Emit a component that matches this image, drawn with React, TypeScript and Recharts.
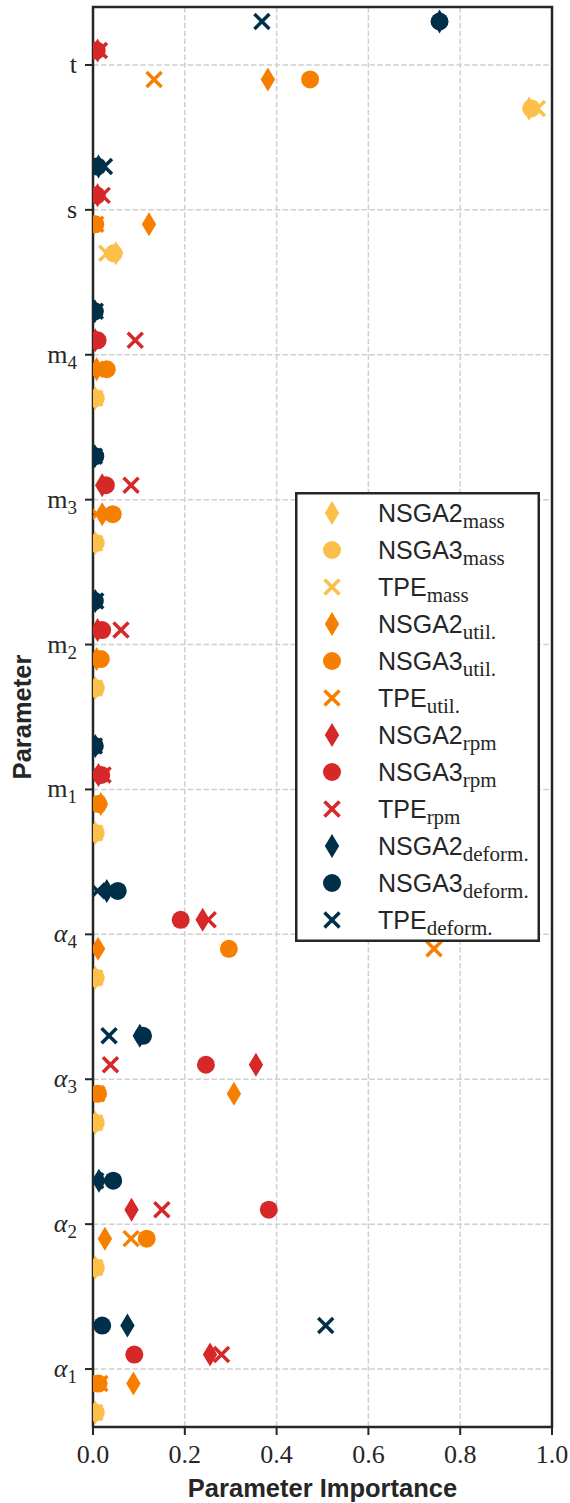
import React from 'react';
import { ScatterChart, Scatter, XAxis, YAxis, CartesianGrid, ReferenceArea, Legend, Label } from 'recharts';

// Parameters, bottom (index 0) to top (index 9)
const paramBase = ['α', 'α', 'α', 'α', 'm', 'm', 'm', 'm', 's', 't'];
const paramSub = ['1', '2', '3', '4', '1', '2', '3', '4', '', ''];
const paramItalic = [true, true, true, true, false, false, false, false, false, false];

const xTicks = [0, 0.2, 0.4, 0.6, 0.8, 1.0];
const yTicks = [0, 1, 2, 3, 4, 5, 6, 7, 8, 9];

const objectives = ['mass', 'util.', 'rpm', 'deform.'];
const objectiveColors = ['#fcbf49', '#f77f00', '#d62828', '#003049'];
const objectiveOffsets = [-0.3, -0.1, 0.1, 0.3];
const methods = ['NSGA2', 'NSGA3', 'TPE'];

// Importance values, order: α1 α2 α3 α4 m1 m2 m3 m4 s t
const nsga2Mass = [0.005, 0.005, 0.005, 0.005, 0.005, 0.005, 0.005, 0.005, 0.05, 0.95];
const nsga3Mass = [0.006, 0.006, 0.006, 0.006, 0.006, 0.006, 0.006, 0.006, 0.045, 0.955];
const tpeMass = [0.004, 0.004, 0.004, 0.004, 0.004, 0.004, 0.004, 0.004, 0.03, 0.968];

const nsga2Util = [0.088, 0.026, 0.307, 0.011, 0.017, 0.008, 0.02, 0.008, 0.122, 0.381];
const nsga3Util = [0.012, 0.117, 0.011, 0.296, 0.012, 0.017, 0.043, 0.03, 0.005, 0.473];
const tpeUtil = [0.015, 0.083, 0.008, 0.743, 0.008, 0.006, 0.008, 0.006, 0.006, 0.133];

const nsga2Rpm = [0.255, 0.084, 0.355, 0.239, 0.012, 0.01, 0.02, 0.005, 0.01, 0.01];
const nsga3Rpm = [0.09, 0.383, 0.246, 0.191, 0.018, 0.02, 0.028, 0.01, 0.008, 0.008];
const tpeRpm = [0.28, 0.15, 0.038, 0.251, 0.022, 0.061, 0.083, 0.092, 0.02, 0.014];

const nsga2Deform = [0.075, 0.013, 0.102, 0.03, 0.005, 0.005, 0.004, 0.004, 0.012, 0.755];
const nsga3Deform = [0.02, 0.044, 0.109, 0.054, 0.004, 0.004, 0.005, 0.004, 0.01, 0.755];
const tpeDeform = [0.507, 0.006, 0.035, 0.01, 0.003, 0.006, 0.003, 0.005, 0.025, 0.368];

const seriesValues = [
  [nsga2Mass, nsga3Mass, tpeMass],
  [nsga2Util, nsga3Util, tpeUtil],
  [nsga2Rpm, nsga3Rpm, tpeRpm],
  [nsga2Deform, nsga3Deform, tpeDeform],
];

const INK = '#262626';
const SERIF = '"Liberation Serif", "DejaVu Serif", serif';
const SANS = '"Liberation Sans", Arial, sans-serif';

const drawMarker = (method: number, cx: number, cy: number, color: string) => {
  if (method === 0) {
    const h = 12, w = 7.2;
    return <path d={`M${cx},${cy - h}L${cx + w},${cy}L${cx},${cy + h}L${cx - w},${cy}Z`} fill={color} />;
  }
  if (method === 1) {
    return <circle cx={cx} cy={cy} r={9} fill={color} />;
  }
  const s = 7.5;
  return (
    <g stroke={color} strokeWidth={3.5} strokeLinecap="butt">
      <line x1={cx - s} y1={cy - s} x2={cx + s} y2={cy + s} />
      <line x1={cx - s} y1={cy + s} x2={cx + s} y2={cy - s} />
    </g>
  );
};

const series = objectives.flatMap((obj, o) =>
  methods.map((m, k) => ({
    name: `${m}_${obj}`,
    method: k,
    objective: o,
    color: objectiveColors[o],
    data: seriesValues[o][k].map((v, i) => ({ x: v, y: i + objectiveOffsets[o] })),
  }))
);

const ParamTick = (props: any) => {
  const { x, y, payload } = props;
  const i = payload.value as number;
  return (
    <text x={x} y={y + 8} textAnchor="end" fontFamily={SERIF} fontSize={26} fill={INK}>
      <tspan fontStyle={paramItalic[i] ? 'italic' : 'normal'}>{paramBase[i]}</tspan>
      {paramSub[i] ? <tspan fontSize={19} dy={6}>{paramSub[i]}</tspan> : null}
    </text>
  );
};

const ImportanceTick = (props: any) => {
  const { x, y, payload } = props;
  return (
    <text x={x} y={y + 28} textAnchor="middle" fontFamily={SERIF} fontSize={26} fill={INK}>
      {Number(payload.value).toFixed(1)}
    </text>
  );
};

const LegendBox = () => (
  <svg width={245} height={450} style={{ display: 'block' }}>
    <rect x={1.25} y={1.25} width={242.5} height={447.5} fill="#ffffff" stroke={INK} strokeWidth={2.5} />
    {series.map((s, k) => {
      const cy = 21 + 37 * k;
      return (
        <g key={s.name}>
          {drawMarker(s.method, 37, cy, s.color)}
          <text x={83} y={cy + 9} fontFamily={SANS} fontSize={25} fill={INK}>
            {methods[s.method]}
            <tspan fontFamily={SERIF} fontSize={21} dy={6}>{objectives[s.objective]}</tspan>
          </text>
        </g>
      );
    })}
  </svg>
);

export default function App() {
  return (
    <div style={{ position: 'absolute', left: 0, top: 0 }}>
      <ScatterChart width={570} height={1503} margin={{ top: 7, right: 18, bottom: 0, left: 0 }}>
        <CartesianGrid stroke="#d0d0d0" strokeWidth={1.5} strokeDasharray="5.5 2.4" />
        <XAxis
          type="number"
          dataKey="x"
          domain={[0, 1]}
          ticks={xTicks}
          allowDataOverflow
          height={76}
          axisLine={false}
          tickSize={8}
          tickMargin={0}
          tickLine={{ stroke: INK, strokeWidth: 2 }}
          tick={<ImportanceTick />}
          interval={0}
        >
          <Label
            content={(p: any) => {
              const vb = p.viewBox || { x: 93, y: 1427, width: 459, height: 76 };
              return (
                <text x={vb.x + vb.width / 2} y={vb.y + 70} textAnchor="middle" fontFamily={SANS} fontWeight="bold" fontSize={25.5} fill={INK}>
                  Parameter Importance
                </text>
              );
            }}
          />
        </XAxis>
        <YAxis
          type="number"
          dataKey="y"
          domain={[-0.4, 9.4]}
          ticks={yTicks}
          allowDataOverflow
          width={93}
          axisLine={false}
          tickSize={8}
          tickMargin={8}
          tickLine={{ stroke: INK, strokeWidth: 2 }}
          tick={<ParamTick />}
          interval={0}
        >
          <Label
            content={(p: any) => {
              const vb = p.viewBox || { x: 0, y: 7, width: 93, height: 1420 };
              const cx = vb.x + 31;
              const cy = vb.y + vb.height / 2;
              return (
                <text x={cx} y={cy} transform={`rotate(-90 ${cx} ${cy})`} textAnchor="middle" fontFamily={SANS} fontWeight="bold" fontSize={25.5} fill={INK}>
                  Parameter
                </text>
              );
            }}
          />
        </YAxis>
        {series.map((s) => (
          <Scatter
            key={s.name}
            name={s.name}
            data={s.data}
            fill={s.color}
            isAnimationActive={false}
            shape={(p: any) => drawMarker(s.method, p.cx, p.cy, s.color)}
          />
        ))}
        <ReferenceArea x1={0} x2={1} y1={-0.4} y2={9.4} fill="none" stroke={INK} strokeWidth={2.5} ifOverflow="visible" />
        <Legend
          layout="vertical"
          align="center"
          verticalAlign="middle"
          content={() => <LegendBox />}
          wrapperStyle={{ left: 295, top: 492, width: 245, height: 450 }}
        />
      </ScatterChart>
    </div>
  );
}
